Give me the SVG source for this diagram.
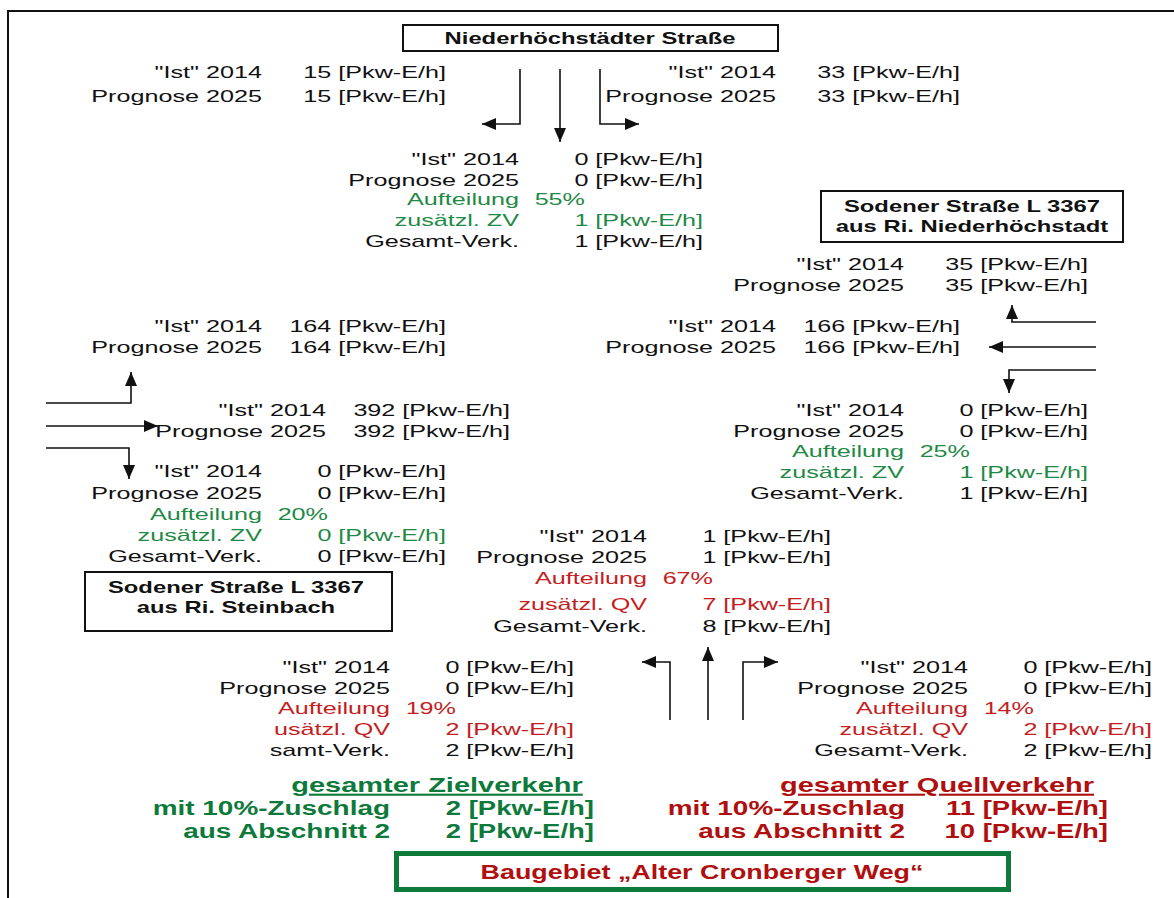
<svg xmlns="http://www.w3.org/2000/svg" width="1174" height="898" viewBox="0 0 1174 898">
<style>
.t{font-family:"Liberation Sans",Arial,sans-serif;font-size:17px;fill:#111}
.e{text-anchor:end}
.m{text-anchor:middle}
.b{font-weight:bold}
.g{fill:#1f8a45}
.rd{fill:#c41e1e}
.bb{font-family:"Liberation Sans",Arial,sans-serif;font-size:21px;font-weight:bold}
.bg{fill:#0d7a3b}
.br{fill:#b00f0f}
.box{fill:#fff;stroke:#111;stroke-width:2}
.ln{fill:none;stroke:#111;stroke-width:1.6}
</style>
<defs>
<marker id="ah" markerUnits="userSpaceOnUse" markerWidth="15" markerHeight="13" refX="14" refY="6" orient="auto">
<path d="M0,0 L14,6 L0,12 z" fill="#111"/>
</marker>
</defs>
<rect width="1174" height="898" fill="#fff"/>
<path d="M8,898 V11 H1174" fill="none" stroke="#111" stroke-width="2"/>

<g id="connectors">
<path class="ln" d="M520,69 V124 H482" marker-end="url(#ah)"/>
<path class="ln" d="M560,69 V142" marker-end="url(#ah)"/>
<path class="ln" d="M600,69 V124 H639" marker-end="url(#ah)"/>
<path class="ln" d="M1096,322 H1012 V305" marker-end="url(#ah)"/>
<path class="ln" d="M1096,347 H989" marker-end="url(#ah)"/>
<path class="ln" d="M1096,370 H1009 V393" marker-end="url(#ah)"/>
<path class="ln" d="M46,403 H131 V372" marker-end="url(#ah)"/>
<path class="ln" d="M46,426 H158" marker-end="url(#ah)"/>
<path class="ln" d="M46,448 H129 V479" marker-end="url(#ah)"/>
<path class="ln" d="M670,720 V662 H642" marker-end="url(#ah)"/>
<path class="ln" d="M708,720 V647" marker-end="url(#ah)"/>
<path class="ln" d="M743,720 V662 H778" marker-end="url(#ah)"/>
</g>

<g id="node-niederhoechstaedter">
<rect class="box" x="403" y="25" width="375" height="26"/>
<text class="t b m" transform="translate(590,44) scale(1.4,1)">Niederhöchstädter Straße</text>
</g>

<g id="node-sodener-nord">
<rect class="box" x="821" y="191" width="302" height="51"/>
<text class="t b m" transform="translate(972,212) scale(1.4,1)">Sodener Straße L 3367</text>
<text class="t b m" transform="translate(972,232) scale(1.4,1)">aus Ri. Niederhöchstadt</text>
</g>

<g id="node-sodener-steinbach">
<rect class="box" x="85" y="572" width="307" height="59"/>
<text class="t b m" transform="translate(236,593) scale(1.4,1)">Sodener Straße L 3367</text>
<text class="t b m" transform="translate(236,613) scale(1.4,1)">aus Ri. Steinbach</text>
</g>

<g id="node-baugebiet">
<rect x="396.5" y="853.5" width="612" height="36" fill="#fff" stroke="#0d7a3b" stroke-width="5"/>
<text class="bb br m" transform="translate(702,879) scale(1.28,1)">Baugebiet „Alter Cronberger Weg“</text>
</g>

<g id="values-top-left">
<text class="t e" transform="translate(262,78) scale(1.48,1)">"Ist" 2014</text>
<text class="t e" transform="translate(446,78) scale(1.48,1)">15 [Pkw-E/h]</text>
<text class="t e" transform="translate(262,102) scale(1.48,1)">Prognose 2025</text>
<text class="t e" transform="translate(446,102) scale(1.48,1)">15 [Pkw-E/h]</text>
</g>

<g id="values-top-right">
<text class="t e" transform="translate(776,78) scale(1.48,1)">"Ist" 2014</text>
<text class="t e" transform="translate(960,78) scale(1.48,1)">33 [Pkw-E/h]</text>
<text class="t e" transform="translate(776,102) scale(1.48,1)">Prognose 2025</text>
<text class="t e" transform="translate(960,102) scale(1.48,1)">33 [Pkw-E/h]</text>
</g>

<g id="values-north-zv">
<text class="t e" transform="translate(519,165) scale(1.48,1)">"Ist" 2014</text>
<text class="t e" transform="translate(703,165) scale(1.48,1)">0 [Pkw-E/h]</text>
<text class="t e" transform="translate(519,186) scale(1.48,1)">Prognose 2025</text>
<text class="t e" transform="translate(703,186) scale(1.48,1)">0 [Pkw-E/h]</text>
<text class="t e g" transform="translate(519,205) scale(1.48,1)">Aufteilung</text>
<text class="t e g" transform="translate(585,205) scale(1.48,1)">55%</text>
<text class="t e g" transform="translate(519,226) scale(1.48,1)">zusätzl. ZV</text>
<text class="t e g" transform="translate(703,226) scale(1.48,1)">1 [Pkw-E/h]</text>
<text class="t e" transform="translate(519,247) scale(1.48,1)">Gesamt-Verk.</text>
<text class="t e" transform="translate(703,247) scale(1.48,1)">1 [Pkw-E/h]</text>
</g>

<g id="values-east-right">
<text class="t e" transform="translate(904,270) scale(1.48,1)">"Ist" 2014</text>
<text class="t e" transform="translate(1088,270) scale(1.48,1)">35 [Pkw-E/h]</text>
<text class="t e" transform="translate(904,291) scale(1.48,1)">Prognose 2025</text>
<text class="t e" transform="translate(1088,291) scale(1.48,1)">35 [Pkw-E/h]</text>
</g>

<g id="values-east-straight">
<text class="t e" transform="translate(776,332) scale(1.48,1)">"Ist" 2014</text>
<text class="t e" transform="translate(960,332) scale(1.48,1)">166 [Pkw-E/h]</text>
<text class="t e" transform="translate(776,353) scale(1.48,1)">Prognose 2025</text>
<text class="t e" transform="translate(960,353) scale(1.48,1)">166 [Pkw-E/h]</text>
</g>

<g id="values-west-left">
<text class="t e" transform="translate(262,332) scale(1.48,1)">"Ist" 2014</text>
<text class="t e" transform="translate(446,332) scale(1.48,1)">164 [Pkw-E/h]</text>
<text class="t e" transform="translate(262,353) scale(1.48,1)">Prognose 2025</text>
<text class="t e" transform="translate(446,353) scale(1.48,1)">164 [Pkw-E/h]</text>
</g>

<g id="values-west-straight">
<text class="t e" transform="translate(326,416) scale(1.48,1)">"Ist" 2014</text>
<text class="t e" transform="translate(510,416) scale(1.48,1)">392 [Pkw-E/h]</text>
<text class="t e" transform="translate(326,437) scale(1.48,1)">Prognose 2025</text>
<text class="t e" transform="translate(510,437) scale(1.48,1)">392 [Pkw-E/h]</text>
</g>

<g id="values-west-zv">
<text class="t e" transform="translate(262,477) scale(1.48,1)">"Ist" 2014</text>
<text class="t e" transform="translate(446,477) scale(1.48,1)">0 [Pkw-E/h]</text>
<text class="t e" transform="translate(262,499) scale(1.48,1)">Prognose 2025</text>
<text class="t e" transform="translate(446,499) scale(1.48,1)">0 [Pkw-E/h]</text>
<text class="t e g" transform="translate(262,520) scale(1.48,1)">Aufteilung</text>
<text class="t e g" transform="translate(328,520) scale(1.48,1)">20%</text>
<text class="t e g" transform="translate(262,541) scale(1.48,1)">zusätzl. ZV</text>
<text class="t e g" transform="translate(446,541) scale(1.48,1)">0 [Pkw-E/h]</text>
<text class="t e" transform="translate(262,562) scale(1.48,1)">Gesamt-Verk.</text>
<text class="t e" transform="translate(446,562) scale(1.48,1)">0 [Pkw-E/h]</text>
</g>

<g id="values-east-zv">
<text class="t e" transform="translate(904,416) scale(1.48,1)">"Ist" 2014</text>
<text class="t e" transform="translate(1088,416) scale(1.48,1)">0 [Pkw-E/h]</text>
<text class="t e" transform="translate(904,437) scale(1.48,1)">Prognose 2025</text>
<text class="t e" transform="translate(1088,437) scale(1.48,1)">0 [Pkw-E/h]</text>
<text class="t e g" transform="translate(904,457) scale(1.48,1)">Aufteilung</text>
<text class="t e g" transform="translate(970,457) scale(1.48,1)">25%</text>
<text class="t e g" transform="translate(904,478) scale(1.48,1)">zusätzl. ZV</text>
<text class="t e g" transform="translate(1088,478) scale(1.48,1)">1 [Pkw-E/h]</text>
<text class="t e" transform="translate(904,499) scale(1.48,1)">Gesamt-Verk.</text>
<text class="t e" transform="translate(1088,499) scale(1.48,1)">1 [Pkw-E/h]</text>
</g>

<g id="values-south-straight">
<text class="t e" transform="translate(647,542) scale(1.48,1)">"Ist" 2014</text>
<text class="t e" transform="translate(831,542) scale(1.48,1)">1 [Pkw-E/h]</text>
<text class="t e" transform="translate(647,563) scale(1.48,1)">Prognose 2025</text>
<text class="t e" transform="translate(831,563) scale(1.48,1)">1 [Pkw-E/h]</text>
<text class="t e rd" transform="translate(647,584) scale(1.48,1)">Aufteilung</text>
<text class="t e rd" transform="translate(713,584) scale(1.48,1)">67%</text>
<text class="t e rd" transform="translate(647,610) scale(1.48,1)">zusätzl. QV</text>
<text class="t e rd" transform="translate(831,610) scale(1.48,1)">7 [Pkw-E/h]</text>
<text class="t e" transform="translate(647,632) scale(1.48,1)">Gesamt-Verk.</text>
<text class="t e" transform="translate(831,632) scale(1.48,1)">8 [Pkw-E/h]</text>
</g>

<g id="values-south-left">
<text class="t e" transform="translate(390,673) scale(1.48,1)">"Ist" 2014</text>
<text class="t e" transform="translate(574,673) scale(1.48,1)">0 [Pkw-E/h]</text>
<text class="t e" transform="translate(390,694) scale(1.48,1)">Prognose 2025</text>
<text class="t e" transform="translate(574,694) scale(1.48,1)">0 [Pkw-E/h]</text>
<text class="t e rd" transform="translate(390,714) scale(1.48,1)">Aufteilung</text>
<text class="t e rd" transform="translate(456,714) scale(1.48,1)">19%</text>
<text class="t e rd" transform="translate(390,735) scale(1.48,1)">usätzl. QV</text>
<text class="t e rd" transform="translate(574,735) scale(1.48,1)">2 [Pkw-E/h]</text>
<text class="t e" transform="translate(390,756) scale(1.48,1)">samt-Verk.</text>
<text class="t e" transform="translate(574,756) scale(1.48,1)">2 [Pkw-E/h]</text>
</g>

<g id="values-south-right">
<text class="t e" transform="translate(968,673) scale(1.48,1)">"Ist" 2014</text>
<text class="t e" transform="translate(1152,673) scale(1.48,1)">0 [Pkw-E/h]</text>
<text class="t e" transform="translate(968,694) scale(1.48,1)">Prognose 2025</text>
<text class="t e" transform="translate(1152,694) scale(1.48,1)">0 [Pkw-E/h]</text>
<text class="t e rd" transform="translate(968,714) scale(1.48,1)">Aufteilung</text>
<text class="t e rd" transform="translate(1034,714) scale(1.48,1)">14%</text>
<text class="t e rd" transform="translate(968,735) scale(1.48,1)">zusätzl. QV</text>
<text class="t e rd" transform="translate(1152,735) scale(1.48,1)">2 [Pkw-E/h]</text>
<text class="t e" transform="translate(968,756) scale(1.48,1)">Gesamt-Verk.</text>
<text class="t e" transform="translate(1152,756) scale(1.48,1)">2 [Pkw-E/h]</text>
</g>

<g id="totals-ziel">
<text class="bb bg m" text-decoration="underline" transform="translate(437,792) scale(1.38,1)">gesamter Zielverkehr</text>
<text class="bb bg e" transform="translate(390,815) scale(1.33,1)">mit 10%-Zuschlag</text>
<text class="bb bg e" transform="translate(594,815) scale(1.31,1)">2 [Pkw-E/h]</text>
<text class="bb bg e" transform="translate(390,838) scale(1.33,1)">aus Abschnitt 2</text>
<text class="bb bg e" transform="translate(594,838) scale(1.31,1)">2 [Pkw-E/h]</text>
</g>

<g id="totals-quell">
<text class="bb br m" text-decoration="underline" transform="translate(937,792) scale(1.38,1)">gesamter Quellverkehr</text>
<text class="bb br e" transform="translate(905,815) scale(1.33,1)">mit 10%-Zuschlag</text>
<text class="bb br e" transform="translate(1108,815) scale(1.31,1)">11 [Pkw-E/h]</text>
<text class="bb br e" transform="translate(905,838) scale(1.33,1)">aus Abschnitt 2</text>
<text class="bb br e" transform="translate(1108,838) scale(1.31,1)">10 [Pkw-E/h]</text>
</g>
</svg>
